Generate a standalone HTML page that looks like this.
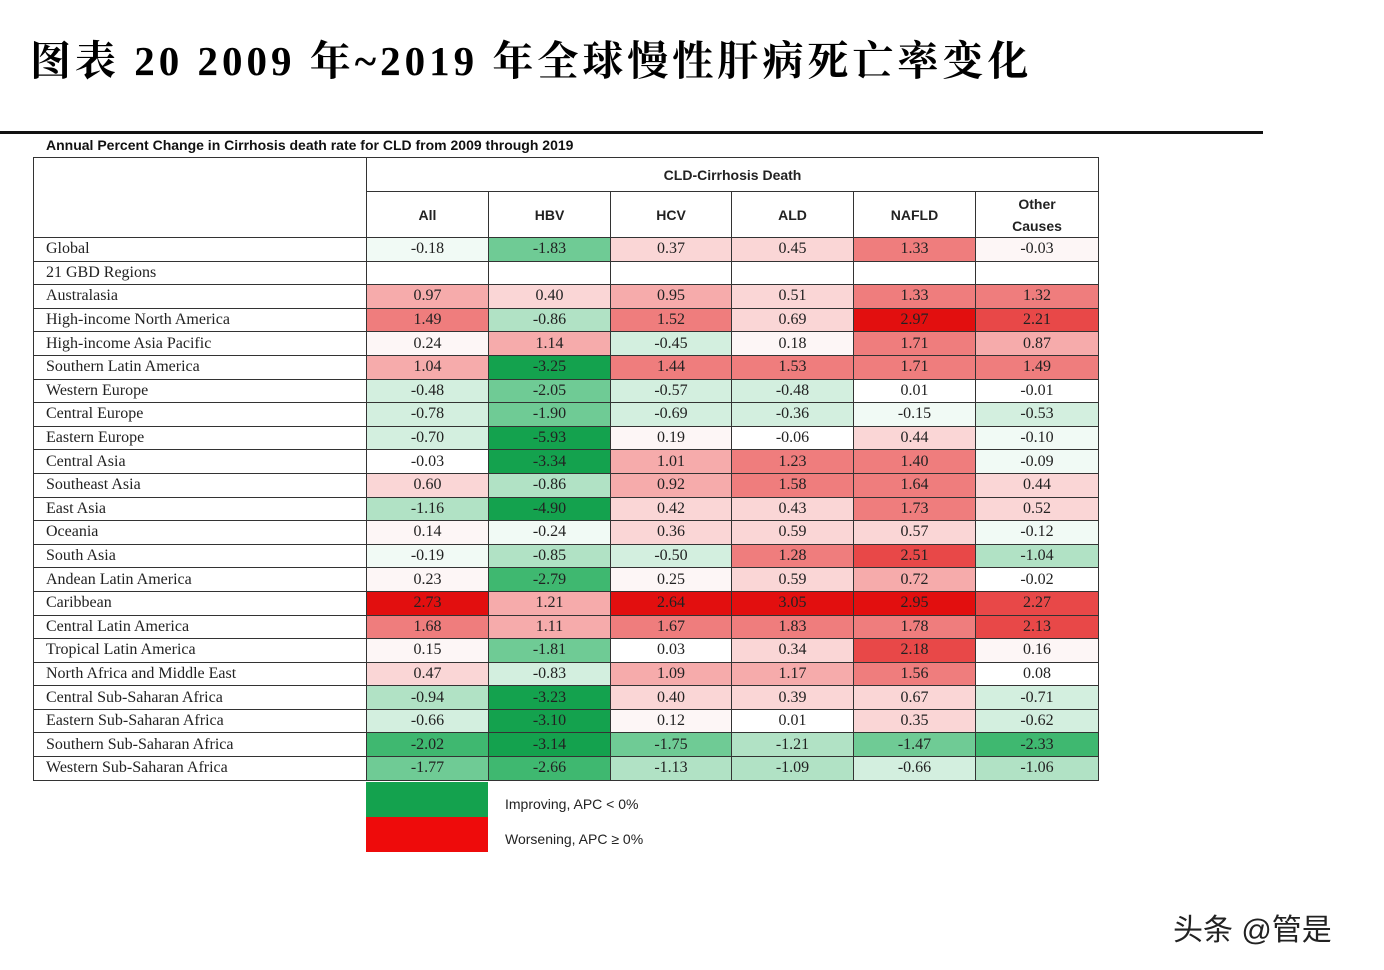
<!DOCTYPE html>
<html><head><meta charset="utf-8"><style>
body{margin:0;width:1384px;height:970px;background:#fff;position:relative;overflow:hidden;font-family:"Liberation Sans","Noto Sans CJK SC",sans-serif;}
.title{position:absolute;left:30px;top:36px;font-family:"Liberation Serif","Noto Serif CJK SC",serif;font-weight:bold;font-size:41px;letter-spacing:4px;color:#000;white-space:nowrap;line-height:50px}
.rule{position:absolute;left:0;top:131px;width:1263px;height:3px;background:#111}
.sub{position:absolute;left:46px;top:137px;font-size:14px;font-weight:bold;color:#111;white-space:nowrap}
table{position:absolute;left:33px;top:157px;border-collapse:collapse;table-layout:fixed;width:1065px;font-family:"Liberation Serif",serif;font-size:16px}
td{border:1.5px solid #333;padding:0;text-align:center;color:#222;overflow:hidden;white-space:nowrap}
tr.d td{height:22.6px}
td.l{text-align:left;padding-left:12px}
.h td{font-family:"Liberation Sans",sans-serif;font-weight:bold;font-size:14px}
.w{background:#fdf6f6}.wg{background:#f1faf5}
.g1{background:#d3efdf}.g2{background:#b1e2c5}.g3{background:#6fcb95}.g4{background:#3fb870}.g5{background:#14a24e}
.r1{background:#fad6d6}.r2{background:#f6abab}.r3{background:#ef7d7d}.r4{background:#e84848}.r5{background:#e20f0f}
.leg{position:absolute;left:366px;width:122px;height:35px}
.lt{position:absolute;left:505px;font-size:14px;color:#222}
.wm{position:absolute;left:1173px;top:905px;font-size:30px;color:#222;white-space:nowrap}
</style></head><body>
<div class="title">图表 20 2009 年~2019 年全球慢性肝病死亡率变化</div>
<div class="rule"></div>
<div class="sub">Annual Percent Change in Cirrhosis death rate for CLD from 2009 through 2019</div>
<table>
<colgroup><col style="width:333px"><col style="width:122px"><col style="width:122px"><col style="width:121px"><col style="width:122px"><col style="width:122px"><col style="width:123px"></colgroup>
<tr class="h"><td class="l" rowspan="2"></td><td colspan="6" style="height:33px">CLD-Cirrhosis Death</td></tr>
<tr class="h"><td style="height:45px">All</td><td>HBV</td><td>HCV</td><td>ALD</td><td>NAFLD</td><td style="line-height:22px">Other<br>Causes</td></tr>
<tr class="d"><td class="l">Global</td><td class="wg">-0.18</td><td class="g3">-1.83</td><td class="r1">0.37</td><td class="r1">0.45</td><td class="r3">1.33</td><td class="w">-0.03</td></tr>
<tr class="d"><td class="l">21 GBD Regions</td><td></td><td></td><td></td><td></td><td></td><td></td></tr>
<tr class="d"><td class="l">Australasia</td><td class="r2">0.97</td><td class="r1">0.40</td><td class="r2">0.95</td><td class="r1">0.51</td><td class="r3">1.33</td><td class="r3">1.32</td></tr>
<tr class="d"><td class="l">High-income North America</td><td class="r3">1.49</td><td class="g2">-0.86</td><td class="r3">1.52</td><td class="r1">0.69</td><td class="r5">2.97</td><td class="r4">2.21</td></tr>
<tr class="d"><td class="l">High-income Asia Pacific</td><td class="w">0.24</td><td class="r2">1.14</td><td class="g1">-0.45</td><td class="w">0.18</td><td class="r3">1.71</td><td class="r2">0.87</td></tr>
<tr class="d"><td class="l">Southern Latin America</td><td class="r2">1.04</td><td class="g5">-3.25</td><td class="r3">1.44</td><td class="r3">1.53</td><td class="r3">1.71</td><td class="r3">1.49</td></tr>
<tr class="d"><td class="l">Western Europe</td><td class="g1">-0.48</td><td class="g3">-2.05</td><td class="g1">-0.57</td><td class="g1">-0.48</td><td>0.01</td><td>-0.01</td></tr>
<tr class="d"><td class="l">Central Europe</td><td class="g1">-0.78</td><td class="g3">-1.90</td><td class="g1">-0.69</td><td class="g1">-0.36</td><td class="wg">-0.15</td><td class="g1">-0.53</td></tr>
<tr class="d"><td class="l">Eastern Europe</td><td class="g1">-0.70</td><td class="g5">-5.93</td><td class="w">0.19</td><td>-0.06</td><td class="r1">0.44</td><td class="wg">-0.10</td></tr>
<tr class="d"><td class="l">Central Asia</td><td>-0.03</td><td class="g5">-3.34</td><td class="r2">1.01</td><td class="r3">1.23</td><td class="r3">1.40</td><td class="wg">-0.09</td></tr>
<tr class="d"><td class="l">Southeast Asia</td><td class="r1">0.60</td><td class="g2">-0.86</td><td class="r2">0.92</td><td class="r3">1.58</td><td class="r3">1.64</td><td class="r1">0.44</td></tr>
<tr class="d"><td class="l">East Asia</td><td class="g2">-1.16</td><td class="g5">-4.90</td><td class="r1">0.42</td><td class="r1">0.43</td><td class="r3">1.73</td><td class="r1">0.52</td></tr>
<tr class="d"><td class="l">Oceania</td><td class="w">0.14</td><td class="wg">-0.24</td><td class="r1">0.36</td><td class="r1">0.59</td><td class="r1">0.57</td><td class="wg">-0.12</td></tr>
<tr class="d"><td class="l">South Asia</td><td class="wg">-0.19</td><td class="g2">-0.85</td><td class="g1">-0.50</td><td class="r3">1.28</td><td class="r4">2.51</td><td class="g2">-1.04</td></tr>
<tr class="d"><td class="l">Andean Latin America</td><td class="w">0.23</td><td class="g4">-2.79</td><td class="w">0.25</td><td class="r1">0.59</td><td class="r2">0.72</td><td>-0.02</td></tr>
<tr class="d"><td class="l">Caribbean</td><td class="r5">2.73</td><td class="r2">1.21</td><td class="r5">2.64</td><td class="r5">3.05</td><td class="r5">2.95</td><td class="r4">2.27</td></tr>
<tr class="d"><td class="l">Central Latin America</td><td class="r3">1.68</td><td class="r2">1.11</td><td class="r3">1.67</td><td class="r3">1.83</td><td class="r3">1.78</td><td class="r4">2.13</td></tr>
<tr class="d"><td class="l">Tropical Latin America</td><td class="w">0.15</td><td class="g3">-1.81</td><td>0.03</td><td class="r1">0.34</td><td class="r4">2.18</td><td class="w">0.16</td></tr>
<tr class="d"><td class="l">North Africa and Middle East</td><td class="r1">0.47</td><td class="g1">-0.83</td><td class="r2">1.09</td><td class="r2">1.17</td><td class="r3">1.56</td><td>0.08</td></tr>
<tr class="d"><td class="l">Central Sub-Saharan Africa</td><td class="g2">-0.94</td><td class="g5">-3.23</td><td class="r1">0.40</td><td class="r1">0.39</td><td class="r1">0.67</td><td class="g1">-0.71</td></tr>
<tr class="d"><td class="l">Eastern Sub-Saharan Africa</td><td class="g1">-0.66</td><td class="g5">-3.10</td><td class="w">0.12</td><td>0.01</td><td class="r1">0.35</td><td class="g1">-0.62</td></tr>
<tr class="d"><td class="l">Southern Sub-Saharan Africa</td><td class="g4">-2.02</td><td class="g5">-3.14</td><td class="g3">-1.75</td><td class="g2">-1.21</td><td class="g3">-1.47</td><td class="g4">-2.33</td></tr>
<tr class="d"><td class="l">Western Sub-Saharan Africa</td><td class="g3">-1.77</td><td class="g4">-2.66</td><td class="g2">-1.13</td><td class="g2">-1.09</td><td class="g1">-0.66</td><td class="g2">-1.06</td></tr>
</table>
<div class="leg" style="top:782px;background:#14a24e"></div>
<div class="leg" style="top:817px;background:#ee0b0b"></div>
<div class="lt" style="top:796px">Improving, APC &lt; 0%</div>
<div class="lt" style="top:831px">Worsening, APC ≥ 0%</div>
<div class="wm">头条 @管是</div>
</body></html>
